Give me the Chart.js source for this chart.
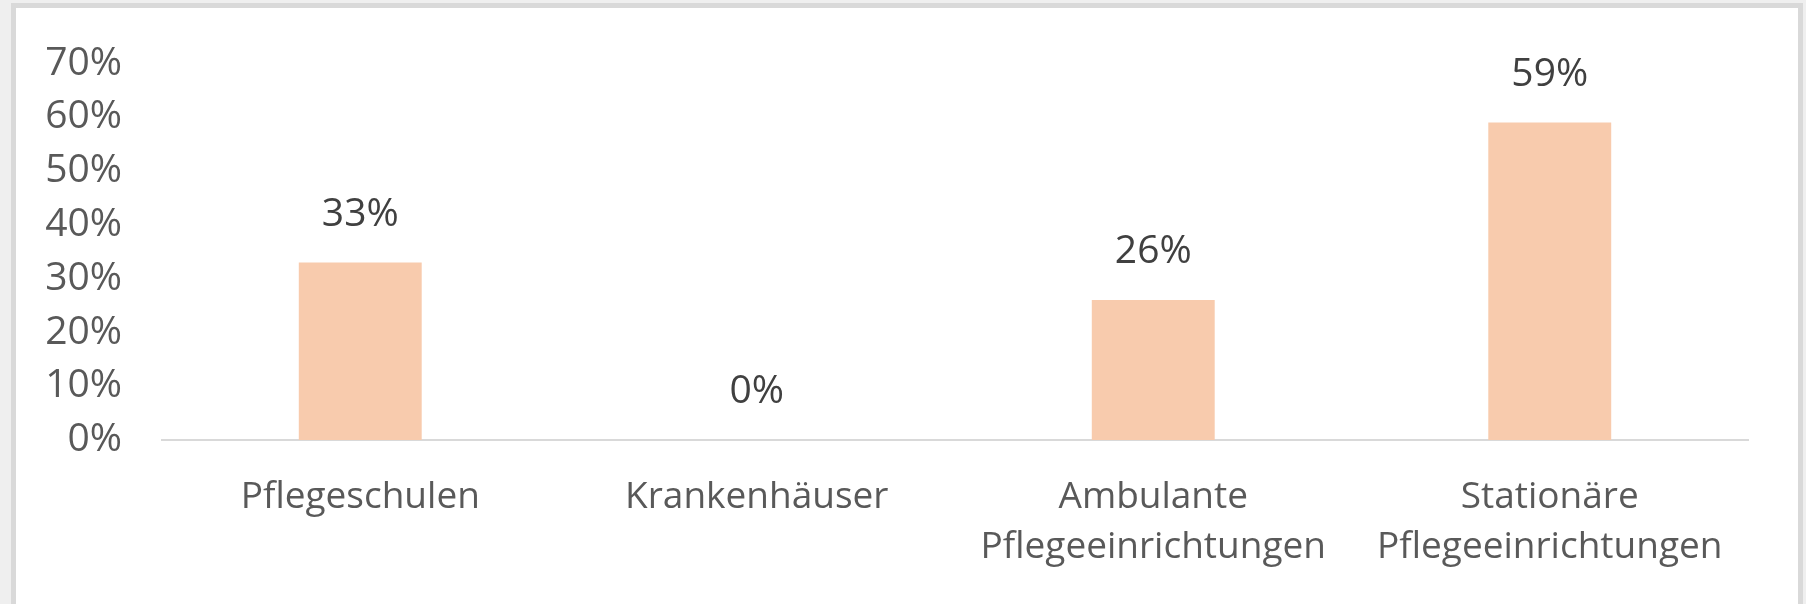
<!DOCTYPE html>
<html>
<head>
<meta charset="utf-8">
<script src="https://cdn.jsdelivr.net/npm/chart.js@4"></script>
<style>
    html, body { margin: 0; padding: 0; background: #efefef; }
    body { width: 1806px; height: 604px; position: relative; overflow: hidden; }
    #frame {
        position: absolute; left: 11px; top: 3px;
        width: 1782px; height: 640px;
        background: #fff; border: 5px solid #d9d9d9;
    }
    #chartBox { position: absolute; left: 0; top: 0; width: 1806px; height: 604px; }
</style>
</head>
<body>
<div id="frame"></div>
<div id="chartBox"><canvas id="resultChart"></canvas></div>
<script>
// 카테고리 / 값
const categories = [
    'Pflegeschulen',
    'Krankenhäuser',
    ['Ambulante', 'Pflegeeinrichtungen'],
    ['Stationäre', 'Pflegeeinrichtungen']
];
const shares = [33, 0, 26, 59];
const yTicks = [0, 10, 20, 30, 40, 50, 60, 70];

const FONT = '"Open Sans", "Noto Sans", sans-serif';
const TEXT_COLOR = '#595959';

// 막대 위에 값 표시
const valueLabels = {
    id: 'valueLabels',
    afterDatasetsDraw(chart) {
        const ctx = chart.ctx;
        const meta = chart.getDatasetMeta(0);
        ctx.save();
        ctx.font = `39px ${FONT}`;
        ctx.fillStyle = '#404040';
        ctx.textAlign = 'center';
        ctx.textBaseline = 'middle';
        meta.data.forEach((bar, i) => {
            ctx.fillText(`${shares[i]}%`, bar.x, bar.y - 48);
        });
        ctx.restore();
    }
};

const ctx = document.getElementById('resultChart').getContext('2d');
new Chart(ctx, {
    type: 'bar',
    data: {
        labels: categories,
        datasets: [{
            data: shares,
            backgroundColor: '#f8cbad',
            borderWidth: 0,
            barPercentage: 1,
            categoryPercentage: 0.31
        }]
    },
    options: {
        responsive: true,
        maintainAspectRatio: false,
        animation: false,
        layout: { padding: { top: 60, right: 58, left: 0, bottom: 0 } },
        plugins: {
            legend: { display: false },
            tooltip: { enabled: false }
        },
        scales: {
            x: {
                grid: { display: false, drawTicks: false },
                border: { display: true, color: '#d9d9d9', width: 2 },
                ticks: {
                    color: TEXT_COLOR,
                    font: { family: FONT, size: 37, lineHeight: 1.34 },
                    padding: 33,
                    maxRotation: 0,
                    autoSkip: false
                },
                afterFit(scale) { scale.height = 164; }
            },
            y: {
                min: 0,
                max: 70,
                afterBuildTicks(scale) {
                    scale.ticks = yTicks.map(v => ({ value: v }));
                },
                grid: { display: false, drawTicks: false },
                border: { display: false },
                ticks: {
                    color: TEXT_COLOR,
                    font: { family: FONT, size: 39 },
                    padding: 40,
                    callback: v => `${v}%`
                },
                afterFit(scale) { scale.width = 162; }
            }
        }
    },
    plugins: [valueLabels]
});
</script>
</body>
</html>
